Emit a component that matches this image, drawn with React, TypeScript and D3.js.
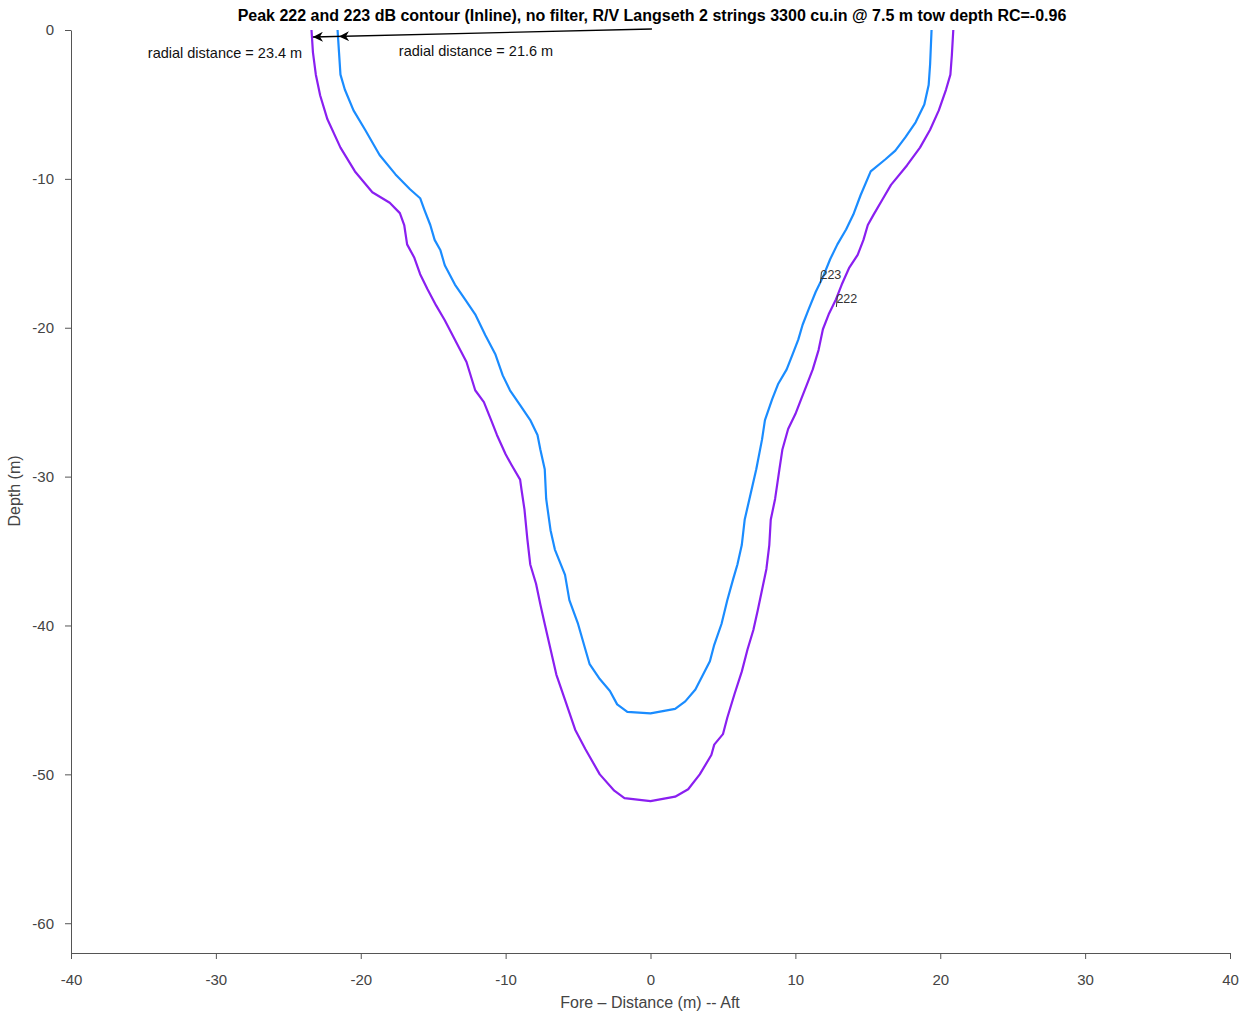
import React, { useEffect, useRef } from 'react'
import * as d3 from 'd3'

// contour 222 dB (purple) - [distance m, depth m]
const contour222: [number, number][] = [
  [-23.4, 0], [-23.3, -1.5], [-23.1, -3.0], [-22.8, -4.4], [-22.3, -6.0], [-21.4, -7.9], [-20.4, -9.5],
  [-19.2, -10.9], [-18.0, -11.6], [-17.3, -12.3], [-17.0, -13.1], [-16.8, -14.4], [-16.3, -15.3],
  [-15.9, -16.4], [-15.4, -17.4], [-14.8, -18.5], [-14.2, -19.5], [-13.5, -20.8], [-12.7, -22.3],
  [-12.1, -24.2], [-11.5, -25.0], [-11.0, -26.2], [-10.6, -27.2], [-10.0, -28.5], [-9.6, -29.2],
  [-9.0, -30.2], [-8.9, -30.9], [-8.7, -32.2], [-8.5, -34.2], [-8.3, -35.9], [-7.9, -37.2],
  [-7.6, -38.6], [-7.3, -39.9], [-6.9, -41.6], [-6.5, -43.3], [-5.9, -45.0], [-5.2, -47.0],
  [-4.5, -48.3], [-3.5, -50.0], [-2.5, -51.1], [-1.8, -51.6], [0, -51.8], [1.7, -51.5], [2.6, -51.0],
  [3.4, -50.0], [4.2, -48.7], [4.4, -48.0], [5.0, -47.3], [5.3, -46.2], [5.8, -44.6], [6.3, -43.1],
  [6.7, -41.6], [7.1, -40.3], [7.4, -39.0], [7.7, -37.6], [8.0, -36.2], [8.2, -34.6], [8.3, -32.9],
  [8.6, -31.5], [8.9, -29.5], [9.1, -28.2], [9.5, -26.8], [10.0, -25.8], [10.4, -24.8], [10.8, -23.8],
  [11.2, -22.8], [11.6, -21.5], [11.9, -20.1], [12.3, -19.1], [12.8, -18.1], [13.2, -17.1],
  [13.7, -16.0], [14.3, -15.1], [14.7, -14.1], [15.0, -13.1], [15.4, -12.4], [16.0, -11.4],
  [16.6, -10.4], [17.7, -9.1], [18.6, -7.9], [19.3, -6.7], [19.9, -5.4], [20.4, -4.0], [20.7, -3.0],
  [20.8, -1.7], [20.9, 0],
]

// contour 223 dB (blue)
const contour223: [number, number][] = [
  [-21.6, 0], [-21.5, -1.5], [-21.4, -3.0], [-21.1, -4.0], [-20.5, -5.4], [-19.7, -6.7], [-18.7, -8.4],
  [-17.6, -9.7], [-16.6, -10.7], [-15.9, -11.3], [-15.6, -12.1], [-15.2, -13.1], [-14.9, -14.1],
  [-14.5, -14.8], [-14.2, -15.8], [-13.5, -17.1], [-12.8, -18.1], [-12.1, -19.1], [-11.4, -20.5],
  [-10.7, -21.8], [-10.2, -23.2], [-9.7, -24.2], [-9.0, -25.2], [-8.3, -26.2], [-7.8, -27.2],
  [-7.6, -28.2], [-7.3, -29.5], [-7.2, -31.5], [-6.9, -33.6], [-6.6, -34.9], [-5.9, -36.6],
  [-5.6, -38.3], [-5.0, -39.9], [-4.5, -41.6], [-4.2, -42.6], [-3.5, -43.6], [-2.8, -44.4],
  [-2.3, -45.3], [-1.6, -45.8], [0, -45.9], [1.7, -45.6], [2.4, -45.1], [3.1, -44.3], [4.1, -42.4],
  [4.4, -41.3], [4.9, -39.9], [5.3, -38.3], [5.7, -36.9], [6.0, -35.9], [6.3, -34.6], [6.5, -32.9],
  [6.9, -31.2], [7.3, -29.5], [7.7, -27.5], [7.9, -26.2], [8.4, -24.8], [8.8, -23.8], [9.4, -22.8],
  [9.8, -21.8], [10.2, -20.8], [10.5, -19.8], [10.9, -18.8], [11.4, -17.6], [11.9, -16.6],
  [12.4, -15.4], [12.9, -14.4], [13.5, -13.4], [14.0, -12.4], [14.5, -11.1], [15.2, -9.5],
  [16.2, -8.7], [16.9, -8.1], [17.6, -7.2], [18.3, -6.2], [18.9, -5.0], [19.2, -3.7], [19.3, -2.3],
  [19.4, 0],
]

const xTicks = [-40, -30, -20, -10, 0, 10, 20, 30, 40]
const yTicks = [0, -10, -20, -30, -40, -50, -60]

// contour labels [text, x, depth]
const contourLabels: [string, number, number][] = [
  ['223', 11.8, -16.6],
  ['222', 12.9, -18.2],
]

const W = 1249
const H = 1016
const FONT = 'Liberation Sans, Arial, sans-serif'

export default function App() {
  const ref = useRef<SVGSVGElement>(null)

  useEffect(() => {
    const svg = d3.select(ref.current)
    svg.selectAll('*').remove()

    const x = d3.scaleLinear().domain([-40, 40]).range([71, 1230])
    const y = d3.scaleLinear().domain([-62, 0]).range([953, 30])
    const fmt = (d: any) => String(d)

    // x axis
    const gx = svg.append('g').attr('transform', 'translate(0,953)')
      .call(d3.axisBottom(x).tickValues(xTicks).tickFormat(fmt).tickSize(6).tickSizeOuter(0).tickPadding(15))
    gx.select('.domain').attr('stroke', '#555')
    gx.selectAll('.tick line').attr('stroke', '#555')
    gx.selectAll('.tick text').attr('fill', '#444').style('font-size', '15px').style('font-family', FONT)

    // y axis
    const gy = svg.append('g').attr('transform', 'translate(71,0)')
      .call(d3.axisLeft(y).tickValues(yTicks).tickFormat(fmt).tickSize(6).tickSizeOuter(0).tickPadding(11))
    gy.select('.domain').attr('stroke', '#555')
    gy.selectAll('.tick line').attr('stroke', '#555')
    gy.selectAll('.tick text').attr('fill', '#444').style('font-size', '15px').style('font-family', FONT)

    const line = d3.line<[number, number]>().x(d => x(d[0])).y(d => y(d[1]))

    svg.append('path').datum(contour222).attr('d', line)
      .attr('fill', 'none').attr('stroke', '#8a1ff0').attr('stroke-width', 2.2)
      .attr('stroke-linejoin', 'round')
    svg.append('path').datum(contour223).attr('d', line)
      .attr('fill', 'none').attr('stroke', '#1a8cff').attr('stroke-width', 2.2)
      .attr('stroke-linejoin', 'round')

    // contour labels
    contourLabels.forEach(([t, lx, ld]) => {
      svg.append('line')
        .attr('x1', x(lx)).attr('x2', x(lx) - 1)
        .attr('y1', y(ld) - 5).attr('y2', y(ld) + 6)
        .attr('stroke', '#333').attr('stroke-width', 1)
      svg.append('text').attr('x', x(lx) - 1).attr('y', y(ld) + 2)
        .attr('font-size', 12.5).attr('fill', '#333').style('font-family', FONT)
        .text(t)
    })

    // arrow annotation
    const defs = svg.append('defs')
    defs.append('marker').attr('id', 'ah').attr('viewBox', '0 0 10 10')
      .attr('refX', 10).attr('refY', 5).attr('markerWidth', 13).attr('markerHeight', 10)
      .attr('markerUnits', 'userSpaceOnUse').attr('orient', 'auto')
      .append('path').attr('d', 'M0,0 L10,5 L0,10 L3,5 Z').attr('fill', '#000')

    const ax0 = x(0.1), ay0 = 29
    const ax1 = x(-23.3), ay1 = 37
    const ax2 = x(-21.5)
    const ay2 = ay0 + (ay1 - ay0) * (ax2 - ax0) / (ax1 - ax0)
    svg.append('line').attr('x1', ax0).attr('y1', ay0).attr('x2', ax1).attr('y2', ay1)
      .attr('stroke', '#000').attr('stroke-width', 1.3)
    svg.append('path').attr('d', `M${ax0},${ay0} L${ax2},${ay2}`)
      .attr('stroke', 'none').attr('fill', 'none').attr('marker-end', 'url(#ah)')
    svg.append('path').attr('d', `M${ax2},${ay2} L${ax1},${ay1}`)
      .attr('stroke', 'none').attr('fill', 'none').attr('marker-end', 'url(#ah)')

    svg.append('text').attr('x', 225).attr('y', 58).attr('text-anchor', 'middle')
      .attr('font-size', 14.5).attr('fill', '#111').style('font-family', FONT)
      .text('radial distance = 23.4 m')
    svg.append('text').attr('x', 476).attr('y', 56).attr('text-anchor', 'middle')
      .attr('font-size', 14.5).attr('fill', '#111').style('font-family', FONT)
      .text('radial distance = 21.6 m')

    // title
    svg.append('text').attr('x', 652).attr('y', 21).attr('text-anchor', 'middle')
      .attr('font-size', 16).attr('font-weight', 'bold').attr('fill', '#000').style('font-family', FONT)
      .text('Peak 222 and 223 dB contour (Inline), no filter, R/V Langseth 2 strings 3300 cu.in @ 7.5 m tow depth RC=-0.96')

    // axis labels
    svg.append('text').attr('x', 650).attr('y', 1008).attr('text-anchor', 'middle')
      .attr('font-size', 16).attr('fill', '#444').style('font-family', FONT)
      .text('Fore – Distance (m) -- Aft')
    svg.append('text').attr('transform', 'translate(20,491) rotate(-90)').attr('text-anchor', 'middle')
      .attr('font-size', 16).attr('fill', '#444').style('font-family', FONT)
      .text('Depth (m)')
  }, [])

  return (
    <div style={{ position: 'absolute', left: 0, top: 0 }}>
      <svg ref={ref} width={W} height={H} style={{ display: 'block', background: '#fff' }} />
    </div>
  )
}
